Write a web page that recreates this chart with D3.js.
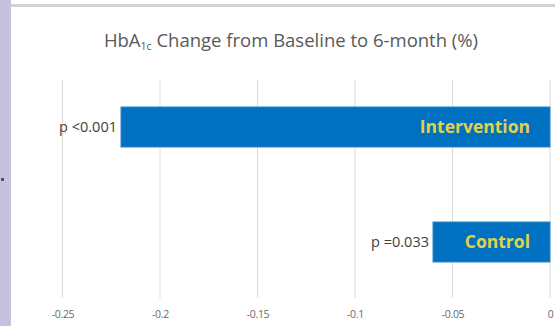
<!DOCTYPE html>
<html>
<head>
<meta charset="utf-8">
<script src="https://cdn.jsdelivr.net/npm/d3@7/dist/d3.min.js"></script>
<style>
  html, body { margin: 0; padding: 0; background: #ffffff; }
  svg { display: block; }
</style>
</head>
<body>
<svg id="chart" width="555" height="326"></svg>
<script>
// HbA1c change from baseline to 6 months, by study arm
const groups = ["Intervention", "Control"];
const changes = [-0.22, -0.06];
const pLabels = ["p <0.001", "p =0.033"];
const tickValues = [-0.25, -0.2, -0.15, -0.1, -0.05, 0];
const tickLabels = ["-0.25", "-0.2", "-0.15", "-0.1", "-0.05", "0"];

const FONT = "'Open Sans', Lato, sans-serif";
const svg = d3.select("#chart");
const W = 555, H = 326;

const x = d3.scaleLinear().domain([-0.25, 0]).range([62.5, 550]);
const y = d3.scaleBand().domain(groups)
  .range([69.5, 299.5]).paddingInner(0.652).paddingOuter(0.326);

// slide frame: lavender side strip and top rule
svg.append("rect").attr("x", 0).attr("y", 0).attr("width", 11).attr("height", H)
  .attr("fill", "#c6c2dd");
svg.append("rect").attr("x", 11).attr("y", 4).attr("width", W - 11).attr("height", 3)
  .attr("fill", "#d2d2d4");
svg.append("rect").attr("x", 1).attr("y", 178).attr("width", 3).attr("height", 3)
  .attr("fill", "#55516a");

// title
const title = svg.append("text")
  .attr("x", 291).attr("y", 47)
  .attr("text-anchor", "middle")
  .attr("font-family", FONT)
  .attr("font-size", 18.5)
  .attr("fill", "#595959");
title.append("tspan").text("HbA");
title.append("tspan").attr("font-size", 10.5).attr("dy", 3).text("1c");
title.append("tspan").attr("dy", -3).text(" Change from Baseline to 6-month (%)");

// vertical gridlines
svg.append("g").selectAll("line").data(tickValues).join("line")
  .attr("x1", d => x(d)).attr("x2", d => x(d))
  .attr("y1", 80).attr("y2", 298)
  .attr("stroke", "#dcdcdc").attr("stroke-width", 1);

// x axis labels
const axis = d3.axisBottom(x).tickValues(tickValues)
  .tickFormat((d, i) => tickLabels[i]).tickSize(0).tickPadding(0);
const gAxis = svg.append("g").attr("transform", "translate(0,311)").call(axis);
gAxis.select(".domain").remove();
gAxis.selectAll("text")
  .attr("font-family", FONT)
  .attr("font-size", 10.5)
  .attr("letter-spacing", -0.3)
  .attr("fill", "#6a6a6a");

// bars
svg.append("g").selectAll("rect").data(groups).join("rect")
  .attr("x", (d, i) => x(changes[i]))
  .attr("y", d => y(d))
  .attr("width", (d, i) => x(0) - x(changes[i]))
  .attr("height", y.bandwidth())
  .attr("fill", "#0070c0")
  .attr("stroke", "#2f86cc").attr("stroke-width", 1);

// group names inside bar ends
svg.append("g").selectAll("text").data(groups).join("text")
  .attr("x", x(0) - 20)
  .attr("y", d => y(d) + y.bandwidth() / 2)
  .attr("dy", "0.36em")
  .attr("text-anchor", "end")
  .attr("font-family", FONT)
  .attr("font-weight", "bold")
  .attr("font-size", 17.5)
  .attr("fill", "#e3d247")
  .text(d => d);

// p-values beside bar starts
svg.append("g").selectAll("text").data(groups).join("text")
  .attr("x", (d, i) => x(changes[i]) - 4)
  .attr("y", d => y(d) + y.bandwidth() / 2)
  .attr("dy", "0.36em")
  .attr("text-anchor", "end")
  .attr("font-family", FONT)
  .attr("font-size", 14.5)
  .attr("fill", "#404040")
  .text((d, i) => pLabels[i]);
</script>
</body>
</html>
